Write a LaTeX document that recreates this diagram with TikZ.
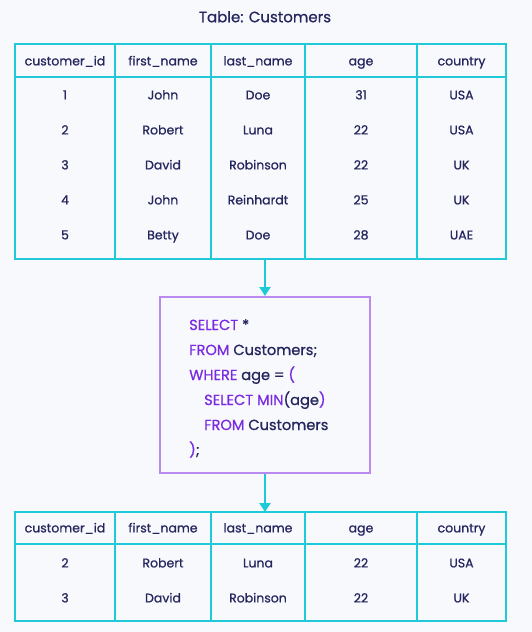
\documentclass[tikz,border=0pt]{standalone}
\usepackage{fontspec}
\setmainfont{Poppins}[FakeBold=0.8]
\newfontfamily\medfont{Poppins}[FakeBold=0.8]
\usetikzlibrary{arrows.meta}
\definecolor{bgcol}{HTML}{F8F9FC}
\definecolor{ink}{HTML}{25265E}
\definecolor{teal}{HTML}{1FC9D8}
\definecolor{kwcol}{HTML}{7A2BE2}
\definecolor{boxcol}{HTML}{B98AF0}
\tikzset{
  grid/.style={draw=teal, line width=2pt},
  cell/.style={text=ink, font=\medfont\fontsize{12.5}{14}\selectfont, inner sep=0pt, text height=8.8pt, text depth=0pt},
  sqline/.style={text=ink, font=\medfont\fontsize{14.6}{17}\selectfont, inner sep=0pt, anchor=base west},
  flow/.style={draw=teal, line width=2.4pt, -{Triangle[width=11pt,length=9pt]}},
}
\newcommand{\kw}[1]{\textcolor{kwcol}{#1}}
\begin{document}
\begin{tikzpicture}[x=1pt,y=-1pt]
    \fill[bgcol] (0,0) rectangle (532,632);
    \useasboundingbox (0,0) rectangle (532,632);
    % Title
    \node[cell, font=\medfont\fontsize{15}{17}\selectfont, text height=10.5pt] (title) at (265,17) {Table: Customers};
    %
    % Input table
    \draw[grid] (15,44) rectangle (506,259);
    \draw[grid] (15,77) -- (506,77);
    \foreach \x in {115,211,305,417} \draw[grid] (\x,44) -- (\x,259);
    \foreach \txt/\cx [count=\c] in {customer\_id/65,first\_name/163,last\_name/258,age/361,country/461.5}
      \node[cell] (in-h\c) at (\cx,61) {\txt};
    \foreach \a/\b/\cc/\d/\e [count=\r] in {1/John/Doe/31/USA,2/Robert/Luna/22/USA,3/David/Robinson/22/UK,4/John/Reinhardt/25/UK,5/Betty/Doe/28/UAE}{
      \node[cell] (in-\r-1) at (65,60+35*\r) {\a};
      \node[cell] (in-\r-2) at (163,60+35*\r) {\b};
      \node[cell] (in-\r-3) at (258,60+35*\r) {\cc};
      \node[cell] (in-\r-4) at (361,60+35*\r) {\d};
      \node[cell] (in-\r-5) at (461.5,60+35*\r) {\e};
    }
    \coordinate (in-bottom) at (265,259);
    %
    % Query box
    \node[draw=boxcol, line width=2pt, minimum width=210pt, minimum height=176pt, inner sep=0pt] (query) at (265,385) {};
    \node[sqline] (q1) at (189,330) {\kw{SELECT} *};
    \node[sqline] (q2) at (189,355) {\kw{FROM} Customers;};
    \node[sqline] (q3) at (189,380) {\kw{WHERE} age = \kw{(}};
    \node[sqline] (q4) at (204,405) {\kw{SELECT} \kw{MIN}(age\kw{)}};
    \node[sqline] (q5) at (204,430) {\kw{FROM} Customers};
    \node[sqline] (q6) at (189,455) {\kw{)};};
    %
    % Result table
    \draw[grid] (15,512) rectangle (506,621);
    \draw[grid] (15,544) -- (506,544);
    \foreach \x in {115,211,305,417} \draw[grid] (\x,512) -- (\x,621);
    \foreach \txt/\cx [count=\c] in {customer\_id/65,first\_name/163,last\_name/258,age/361,country/461.5}
      \node[cell] (out-h\c) at (\cx,528) {\txt};
    \foreach \a/\b/\cc/\d/\e [count=\r] in {2/Robert/Luna/22/USA,3/David/Robinson/22/UK}{
      \node[cell] (out-\r-1) at (65,528+35*\r) {\a};
      \node[cell] (out-\r-2) at (163,528+35*\r) {\b};
      \node[cell] (out-\r-3) at (258,528+35*\r) {\cc};
      \node[cell] (out-\r-4) at (361,528+35*\r) {\d};
      \node[cell] (out-\r-5) at (461.5,528+35*\r) {\e};
    }
    \coordinate (out-top) at (265,512);
    %
    % Flow arrows
    \draw[flow] (in-bottom) -- (query.north);
    \draw[flow] (query.south) -- (out-top);
\end{tikzpicture}
\end{document}
